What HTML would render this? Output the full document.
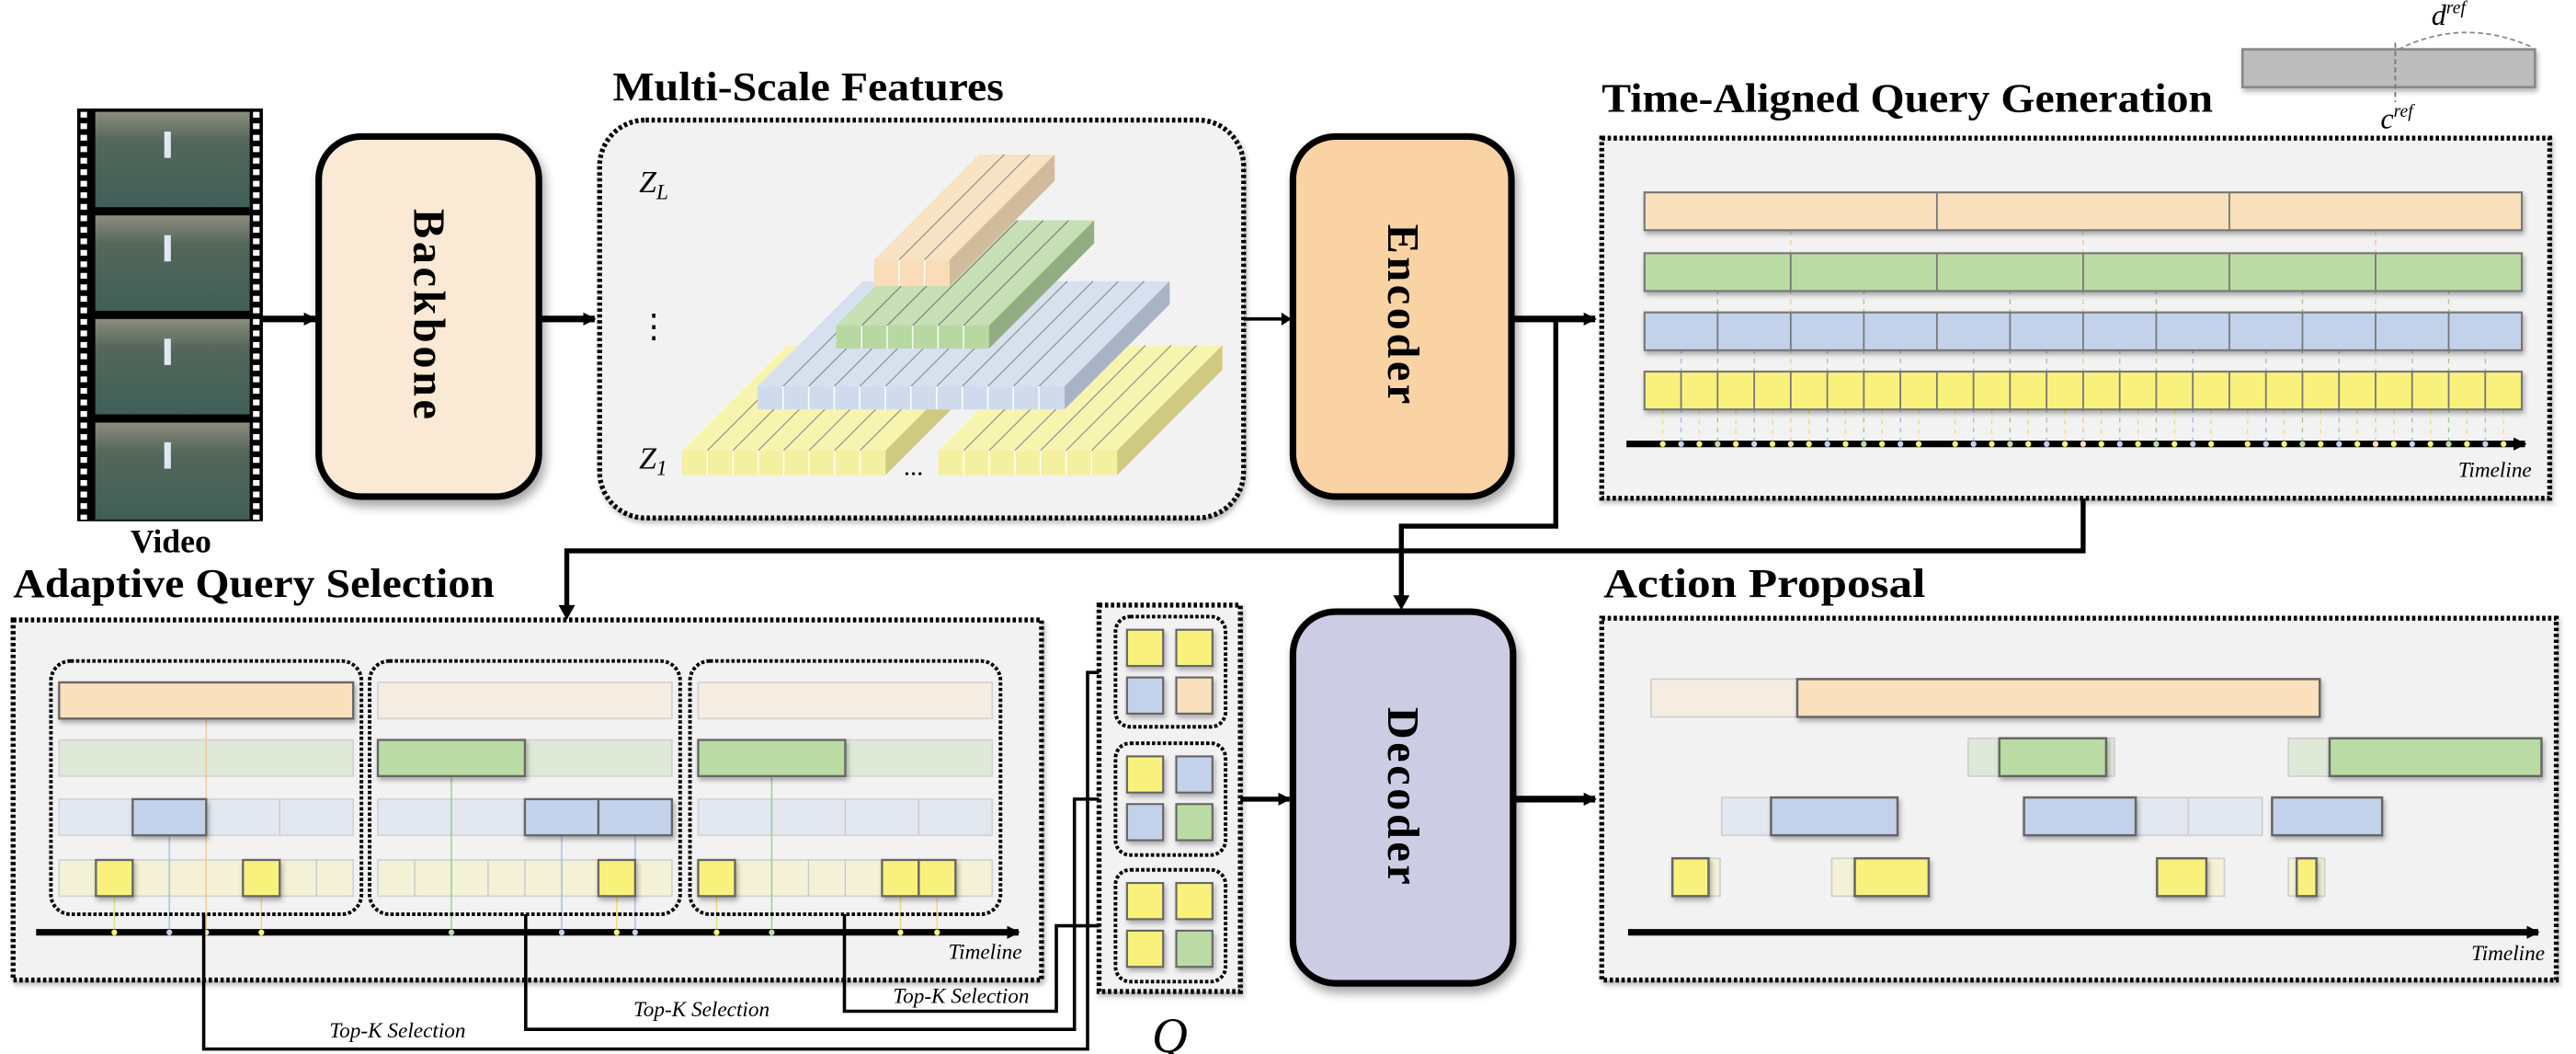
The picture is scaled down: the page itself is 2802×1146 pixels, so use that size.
<!DOCTYPE html>
<html><head><meta charset="utf-8"><style>
html,body{margin:0;padding:0;background:#fff;}
svg{display:block;}
text{font-family:"Liberation Serif",serif;}
</style></head><body>
<svg width="2802" height="1146" viewBox="0 0 1568 641" preserveAspectRatio="none" xmlns="http://www.w3.org/2000/svg">
<defs>
<marker id="ahs" markerWidth="8" markerHeight="8" refX="7" refY="4" orient="auto" markerUnits="userSpaceOnUse"><path d="M0,0 L8,4 L0,8 z" fill="#000"/></marker>
<filter id="sh" x="-20%" y="-20%" width="140%" height="140%"><feDropShadow dx="2" dy="4" stdDeviation="3" flood-opacity="0.35"/></filter>
<filter id="sh2" x="-20%" y="-20%" width="140%" height="160%"><feDropShadow dx="1" dy="2" stdDeviation="1.5" flood-opacity="0.3"/></filter>
<linearGradient id="fr" x1="0" y1="0" x2="0" y2="1"><stop offset="0" stop-color="#8a8e80"/><stop offset="0.3" stop-color="#55675a"/><stop offset="1" stop-color="#3f5f58"/></linearGradient>
</defs>

<!-- Film strip -->
<rect x="47" y="66" width="113" height="251" fill="#000"/>
<line x1="51" y1="68" x2="51" y2="316" stroke="#fff" stroke-width="4" stroke-dasharray="3.5,3.5"/>
<line x1="156" y1="68" x2="156" y2="316" stroke="#fff" stroke-width="4" stroke-dasharray="3.5,3.5"/>
<rect x="58" y="68" width="94" height="58" fill="url(#fr)"/>
<rect x="58" y="131" width="94" height="58" fill="url(#fr)"/>
<rect x="58" y="194" width="94" height="58" fill="url(#fr)"/>
<rect x="58" y="257" width="94" height="59" fill="url(#fr)"/>
<g fill="#dfe8f2"><rect x="100" y="80" width="4" height="16"/><rect x="100" y="143" width="4" height="16"/><rect x="100" y="206" width="4" height="16"/><rect x="100" y="269" width="4" height="16"/></g>
<text x="104" y="336" font-size="20" font-weight="bold" text-anchor="middle">Video</text>

<!-- Backbone -->
<rect x="194" y="83" width="134" height="219" rx="26" fill="#fae9d4" stroke="#000" stroke-width="4" filter="url(#sh)"/>
<text transform="translate(252,192) rotate(90)" font-size="27" font-weight="bold" text-anchor="middle" letter-spacing="2">Backbone</text>
<line x1="160" y1="194" x2="192" y2="194" stroke="#000" stroke-width="4" marker-end="url(#ahs)"/>
<line x1="328" y1="194" x2="362" y2="194" stroke="#000" stroke-width="4" marker-end="url(#ahs)"/>

<!-- Multi-scale -->
<text x="373" y="61" font-size="25" font-weight="bold" textLength="238" lengthAdjust="spacingAndGlyphs">Multi-Scale Features</text>
<rect x="365" y="73" width="392" height="242" rx="28" fill="#f2f2f2" stroke="#000" stroke-width="3" stroke-dasharray="2,1.6" filter="url(#sh2)"/>
<!-- yellow left -->
<polygon points="415,274 479,210 603,210 539,274" fill="#f7f4b0"/>
<polygon points="539,274 603,210 603,225 539,289" fill="#cfca80"/>
<rect x="415" y="274" width="124" height="15" fill="#f4f0a0"/>
<path d="M430.5,274l64,-64M446,274l64,-64M461.5,274l64,-64M477,274l64,-64M492.5,274l64,-64M508,274l64,-64M523.5,274l64,-64" stroke="#888" stroke-width="0.6"/>
<path d="M430.5,274v15M446,274v15M461.5,274v15M477,274v15M492.5,274v15M508,274v15M523.5,274v15" stroke="#fff" stroke-width="0.8"/>
<!-- yellow right -->
<polygon points="571,274 635,210 744,210 680,274" fill="#f7f4b0"/>
<polygon points="680,274 744,210 744,225 680,289" fill="#cfca80"/>
<rect x="571" y="274" width="109" height="15" fill="#f4f0a0"/>
<path d="M586.6,274l64,-64M602.1,274l64,-64M617.7,274l64,-64M633.3,274l64,-64M648.9,274l64,-64M664.4,274l64,-64" stroke="#888" stroke-width="0.6"/>
<path d="M586.6,274v15M602.1,274v15M617.7,274v15M633.3,274v15M648.9,274v15M664.4,274v15" stroke="#fff" stroke-width="0.8"/>
<!-- blue -->
<polygon points="461,235 525,171 712,171 648,235" fill="#d6e0ee"/>
<polygon points="648,235 712,171 712,185 648,249" fill="#a9b3c6"/>
<rect x="461" y="235" width="187" height="14" fill="#cfdbec"/>
<path d="M476.6,235l64,-64M492.2,235l64,-64M507.8,235l64,-64M523.3,235l64,-64M538.9,235l64,-64M554.5,235l64,-64M570.1,235l64,-64M585.7,235l64,-64M601.3,235l64,-64M616.8,235l64,-64M632.4,235l64,-64" stroke="#888" stroke-width="0.6"/>
<path d="M476.6,235v14M492.2,235v14M507.8,235v14M523.3,235v14M538.9,235v14M554.5,235v14M570.1,235v14M585.7,235v14M601.3,235v14M616.8,235v14M632.4,235v14" stroke="#fff" stroke-width="0.8"/>
<!-- green -->
<polygon points="509,198 573,134 666,134 602,198" fill="#c6dfb4"/>
<polygon points="602,198 666,134 666,148 602,212" fill="#93ad82"/>
<rect x="509" y="198" width="93" height="14" fill="#b8d8a2"/>
<path d="M524.5,198l64,-64M540,198l64,-64M555.5,198l64,-64M571,198l64,-64M586.5,198l64,-64" stroke="#777" stroke-width="0.6"/>
<path d="M524.5,198v14M540,198v14M555.5,198v14M571,198v14M586.5,198v14" stroke="#fff" stroke-width="0.8"/>
<!-- orange -->
<polygon points="532,158 596,94 642,94 578,158" fill="#f8e2c4"/>
<polygon points="578,158 642,94 642,110 578,174" fill="#d2bb9c"/>
<rect x="532" y="158" width="46" height="16" fill="#f8ddb8"/>
<path d="M547.3,158l64,-64M562.7,158l64,-64" stroke="#888" stroke-width="0.6"/>
<path d="M547.3,158v16M562.7,158v16" stroke="#fff" stroke-width="0.8"/>
<text x="389" y="117" font-size="19" font-style="italic">Z<tspan font-size="13" dy="4">L</tspan></text>
<text x="398" y="205" font-size="20" text-anchor="middle">⋮</text>
<text x="389" y="285" font-size="19" font-style="italic">Z<tspan font-size="13" dy="4">1</tspan></text>
<text x="556" y="289" font-size="16" text-anchor="middle">...</text>

<!-- Encoder -->
<rect x="787" y="83" width="133" height="219" rx="26" fill="#fad3a4" stroke="#000" stroke-width="4" filter="url(#sh)"/>
<text transform="translate(845,192) rotate(90)" font-size="27" font-weight="bold" text-anchor="middle" letter-spacing="2">Encoder</text>
<line x1="757" y1="194" x2="785" y2="194" stroke="#000" stroke-width="2"/>
<path d="M780,190 L786,194 L780,198z" fill="#000"/>
<line x1="920" y1="194" x2="971" y2="194" stroke="#000" stroke-width="4" marker-end="url(#ahs)"/>

<!-- ref bar -->
<rect x="1365" y="30" width="178" height="23" fill="#bcbcbc" stroke="#888" stroke-width="1.5" filter="url(#sh2)"/>
<line x1="1458" y1="26" x2="1458" y2="62" stroke="#777" stroke-width="1" stroke-dasharray="3,2"/>
<path d="M1460,30 Q1500,10 1542,29" fill="none" stroke="#888" stroke-width="1" stroke-dasharray="3,2"/>
<text x="1480" y="15" font-size="18" font-style="italic">d<tspan font-size="11" dy="-7">ref</tspan></text>
<text x="1449" y="78" font-size="18" font-style="italic">c<tspan font-size="11" dy="-7">ref</tspan></text>

<!-- TAQG -->
<text x="975" y="68" font-size="25" font-weight="bold" textLength="372" lengthAdjust="spacingAndGlyphs">Time-Aligned Query Generation</text>
<rect x="975" y="84" width="577" height="219" fill="#f2f2f2" stroke="#000" stroke-width="3" stroke-dasharray="2,1.6" filter="url(#sh2)"/>
<g stroke-width="0.8" stroke-dasharray="3,3" fill="none">
<path stroke="#f0e070" d="M1012.1,249V268M1034.4,249V268M1056.6,249V268M1078.9,249V268M1101.1,249V268M1123.4,249V268M1145.6,249V268M1167.9,249V268M1190.1,249V268M1212.4,249V268M1234.6,249V268M1256.9,249V268M1279.1,249V268M1301.4,249V268M1323.6,249V268M1345.9,249V268M1368.1,249V268M1390.4,249V268M1412.6,249V268M1434.9,249V268M1457.1,249V268M1479.4,249V268M1501.6,249V268M1523.9,249V268"/>
<path stroke="#a8bde0" d="M1023.3,212V268M1067.8,212V268M1112.3,212V268M1156.8,212V268M1201.3,212V268M1245.8,212V268M1290.3,212V268M1334.8,212V268M1379.3,212V268M1423.8,212V268M1468.3,212V268M1512.8,212V268"/>
<path stroke="#9fcc88" d="M1045.5,176V268M1134.5,176V268M1223.5,176V268M1312.5,176V268M1401.5,176V268M1490.5,176V268"/>
<path stroke="#f5c898" d="M1090,140V268M1268,140V268M1446,140V268"/>
</g>
<g stroke="#777" stroke-width="1.2" filter="url(#sh2)">
<rect x="1001" y="117" width="534" height="23" fill="#fae0bc"/>
<rect x="1001" y="154" width="534" height="23" fill="#bbdba4"/>
<rect x="1001" y="190" width="534" height="23" fill="#c3d2ea"/>
<rect x="1001" y="226" width="534" height="23" fill="#f8f27d"/>
</g>
<g stroke="#777" stroke-width="1">
<path d="M1179,117v23M1357,117v23"/>
<path d="M1090,154v23M1179,154v23M1268,154v23M1357,154v23M1446,154v23"/>
<path d="M1045.5,190v23M1090,190v23M1134.5,190v23M1179,190v23M1223.5,190v23M1268,190v23M1312.5,190v23M1357,190v23M1401.5,190v23M1446,190v23M1490.5,190v23"/>
<path d="M1023.25,226v23M1045.5,226v23M1067.75,226v23M1090,226v23M1112.25,226v23M1134.5,226v23M1156.75,226v23M1179,226v23M1201.25,226v23M1223.5,226v23M1245.75,226v23M1268,226v23M1290.25,226v23M1312.5,226v23M1334.75,226v23M1357,226v23M1379.25,226v23M1401.5,226v23M1423.75,226v23M1446,226v23M1468.25,226v23M1490.5,226v23M1512.75,226v23"/>
</g>
<line x1="990" y1="270" x2="1537" y2="270" stroke="#000" stroke-width="4" marker-end="url(#ahs)"/>
<g stroke-linecap="round" stroke-width="3.5" fill="none">
<path stroke="#f8f27d" d="M1012.1,270v.1M1034.4,270v.1M1056.6,270v.1M1078.9,270v.1M1101.1,270v.1M1123.4,270v.1M1145.6,270v.1M1167.9,270v.1M1190.1,270v.1M1212.4,270v.1M1234.6,270v.1M1256.9,270v.1M1279.1,270v.1M1301.4,270v.1M1323.6,270v.1M1345.9,270v.1M1368.1,270v.1M1390.4,270v.1M1412.6,270v.1M1434.9,270v.1M1457.1,270v.1M1479.4,270v.1M1501.6,270v.1M1523.9,270v.1"/>
<path stroke="#c3d2ea" d="M1023.3,270v.1M1067.8,270v.1M1112.3,270v.1M1156.8,270v.1M1201.3,270v.1M1245.8,270v.1M1290.3,270v.1M1334.8,270v.1M1379.3,270v.1M1423.8,270v.1M1468.3,270v.1M1512.8,270v.1"/>
<path stroke="#bbdba4" d="M1045.5,270v.1M1134.5,270v.1M1223.5,270v.1M1312.5,270v.1M1401.5,270v.1M1490.5,270v.1"/>
<path stroke="#fae0bc" d="M1090,270v.1M1268,270v.1M1446,270v.1"/>
</g>
<text x="1541" y="290" font-size="13" font-style="italic" text-anchor="end">Timeline</text>

<!-- connectors -->
<polyline points="947,194 947,320 853,320 853,366" fill="none" stroke="#000" stroke-width="3"/>
<path d="M848,362 L853,371 L858,362z" fill="#000"/>
<polyline points="1268,303 1268,335 345,335 345,372" fill="none" stroke="#000" stroke-width="3"/>
<path d="M340,368 L345,377 L350,368z" fill="#000"/>

<!-- AQS -->
<text x="8" y="363" font-size="25" font-weight="bold" textLength="293" lengthAdjust="spacingAndGlyphs">Adaptive Query Selection</text>
<rect x="8" y="377" width="626" height="219" fill="#f2f2f2" stroke="#000" stroke-width="3" stroke-dasharray="2,1.6" filter="url(#sh2)"/>
<!-- faded rows -->
<g stroke="#d4d4d4" stroke-width="1">
<rect x="36" y="415" width="179" height="22" fill="#f5ede2"/><rect x="230" y="415" width="179" height="22" fill="#f5ede2"/><rect x="425" y="415" width="179" height="22" fill="#f5ede2"/>
<rect x="36" y="450" width="179" height="22" fill="#dfe9d7"/><rect x="230" y="450" width="179" height="22" fill="#dfe9d7"/><rect x="425" y="450" width="179" height="22" fill="#dfe9d7"/>
<rect x="36" y="486" width="179" height="22" fill="#e3e8f0"/><rect x="230" y="486" width="179" height="22" fill="#e3e8f0"/><rect x="425" y="486" width="179" height="22" fill="#e3e8f0"/>
<rect x="36" y="523" width="179" height="22" fill="#f3f2d6"/><rect x="230" y="523" width="179" height="22" fill="#f3f2d6"/><rect x="425" y="523" width="179" height="22" fill="#f3f2d6"/>
</g>
<path stroke="#c8c8c8" stroke-width="0.8" d="M125.5,450v22M319.5,450v22M514.5,450v22
M80.75,486v22M125.5,486v22M170.25,486v22M274.75,486v22M319.5,486v22M364.25,486v22M469.75,486v22M514.5,486v22M559.25,486v22
M58.4,523v22M80.75,523v22M103.1,523v22M125.5,523v22M147.9,523v22M170.25,523v22M192.6,523v22
M252.4,523v22M274.75,523v22M297.1,523v22M319.5,523v22M341.9,523v22M364.25,523v22M386.6,523v22
M447.4,523v22M469.75,523v22M492.1,523v22M514.5,523v22M536.9,523v22M559.25,523v22M581.6,523v22"/>
<!-- selection lines -->
<g stroke-width="0.8" fill="none">
<path stroke="#f5c898" d="M125.5,437V567"/>
<path stroke="#9fcc88" d="M274.75,472V567M469.75,472V567"/>
<path stroke="#a8bde0" d="M103.1,508V567M341.9,508V567M386.6,508V567"/>
<path stroke="#e8e070" d="M69.6,545V567M159.1,545V567M375.4,545V567M436.2,545V567M548.1,545V567M570.4,545V567"/>
</g>
<!-- selected -->
<g stroke="#666" stroke-width="1.3" filter="url(#sh2)">
<rect x="36" y="415" width="179" height="22" fill="#fae0bc"/>
<rect x="230" y="450" width="89.5" height="22" fill="#bbdba4"/>
<rect x="425" y="450" width="89.5" height="22" fill="#bbdba4"/>
<rect x="80.75" y="486" width="44.75" height="22" fill="#c3d2ea"/>
<rect x="319.5" y="486" width="44.75" height="22" fill="#c3d2ea"/>
<rect x="364.25" y="486" width="44.75" height="22" fill="#c3d2ea"/>
<rect x="58.4" y="523" width="22.35" height="22" fill="#f8f27d"/>
<rect x="147.9" y="523" width="22.35" height="22" fill="#f8f27d"/>
<rect x="364.25" y="523" width="22.35" height="22" fill="#f8f27d"/>
<rect x="425" y="523" width="22.4" height="22" fill="#f8f27d"/>
<rect x="536.9" y="523" width="22.35" height="22" fill="#f8f27d"/>
<rect x="559.25" y="523" width="22.35" height="22" fill="#f8f27d"/>
</g>
<rect x="31" y="402" width="189" height="154" rx="12" fill="none" stroke="#000" stroke-width="2.2" stroke-dasharray="2,1.3"/>
<rect x="225" y="402" width="189" height="154" rx="12" fill="none" stroke="#000" stroke-width="2.2" stroke-dasharray="2,1.3"/>
<rect x="420" y="402" width="189" height="154" rx="12" fill="none" stroke="#000" stroke-width="2.2" stroke-dasharray="2,1.3"/>
<line x1="22" y1="567" x2="620" y2="567" stroke="#000" stroke-width="4" marker-end="url(#ahs)"/>
<g stroke-linecap="round" stroke-width="3.5" fill="none">
<path stroke="#f8f27d" d="M69.6,567v.1M159.1,567v.1M375.4,567v.1M436.2,567v.1M548.1,567v.1M570.4,567v.1"/>
<path stroke="#c3d2ea" d="M103.1,567v.1M341.9,567v.1M386.6,567v.1"/>
<path stroke="#bbdba4" d="M274.75,567v.1M469.75,567v.1"/>
<path stroke="#fae0bc" d="M125.5,567v.1"/>
</g>
<text x="622" y="583" font-size="13" font-style="italic" text-anchor="end">Timeline</text>

<!-- Top-K lines -->
<polyline points="124,556 124,638 662,638 662,409 675,409" fill="none" stroke="#000" stroke-width="2"/>
<polyline points="320,556 320,626 654,626 654,486 675,486" fill="none" stroke="#000" stroke-width="2"/>
<polyline points="514,556 514,615 643,615 643,563 675,563" fill="none" stroke="#000" stroke-width="2"/>
<path d="M672,405 L680,409 L672,413z M672,482 L680,486 L672,490z M672,559 L680,563 L672,567z" fill="#000"/>
<text x="242" y="631" font-size="13" font-style="italic" text-anchor="middle">Top-K Selection</text>
<text x="427" y="618" font-size="13" font-style="italic" text-anchor="middle">Top-K Selection</text>
<text x="585" y="610" font-size="13" font-style="italic" text-anchor="middle">Top-K Selection</text>

<!-- Q -->
<rect x="669" y="368" width="86" height="235" fill="#f2f2f2" stroke="#000" stroke-width="3" stroke-dasharray="2,1.6" filter="url(#sh2)"/>
<rect x="679" y="375" width="67" height="67" rx="9" fill="none" stroke="#000" stroke-width="2.2" stroke-dasharray="2,1.3"/>
<rect x="679" y="452" width="67" height="68" rx="9" fill="none" stroke="#000" stroke-width="2.2" stroke-dasharray="2,1.3"/>
<rect x="679" y="529" width="67" height="68" rx="9" fill="none" stroke="#000" stroke-width="2.2" stroke-dasharray="2,1.3"/>
<g stroke="#666" stroke-width="1.2" filter="url(#sh2)">
<rect x="686" y="383" width="22" height="22" fill="#f8f27d"/><rect x="716" y="383" width="22" height="22" fill="#f8f27d"/>
<rect x="686" y="412" width="22" height="22" fill="#c3d2ea"/><rect x="716" y="412" width="22" height="22" fill="#fae0bc"/>
<rect x="686" y="460" width="22" height="22" fill="#f8f27d"/><rect x="716" y="460" width="22" height="22" fill="#c3d2ea"/>
<rect x="686" y="489" width="22" height="22" fill="#c3d2ea"/><rect x="716" y="489" width="22" height="22" fill="#bbdba4"/>
<rect x="686" y="537" width="22" height="22" fill="#f8f27d"/><rect x="716" y="537" width="22" height="22" fill="#f8f27d"/>
<rect x="686" y="566" width="22" height="22" fill="#f8f27d"/><rect x="716" y="566" width="22" height="22" fill="#bbdba4"/>
</g>
<text x="712" y="640" font-size="30" font-style="italic" text-anchor="middle">Q</text>

<!-- Decoder -->
<rect x="787" y="372" width="134" height="226" rx="26" fill="#cccce4" stroke="#000" stroke-width="4" filter="url(#sh)"/>
<text transform="translate(845,485) rotate(90)" font-size="27" font-weight="bold" text-anchor="middle" letter-spacing="2">Decoder</text>
<line x1="755" y1="486" x2="785" y2="486" stroke="#000" stroke-width="3" marker-end="url(#ahs)"/>
<line x1="921" y1="486" x2="971" y2="486" stroke="#000" stroke-width="4" marker-end="url(#ahs)"/>

<!-- Action Proposal -->
<text x="976" y="363" font-size="25" font-weight="bold" textLength="196" lengthAdjust="spacingAndGlyphs">Action Proposal</text>
<rect x="975" y="376" width="581" height="220" fill="#f2f2f2" stroke="#000" stroke-width="3" stroke-dasharray="2,1.6" filter="url(#sh2)"/>
<g stroke="#d0d0d0" stroke-width="1">
<rect x="1005" y="413" width="89" height="23" fill="#f5ede2"/>
<rect x="1198" y="449" width="89" height="23" fill="#dfe9d7"/>
<rect x="1393" y="449" width="25" height="23" fill="#dfe9d7"/>
<rect x="1048" y="485" width="30" height="23" fill="#e3e8f0"/>
<rect x="1300" y="485" width="32" height="23" fill="#e3e8f0"/>
<rect x="1332" y="485" width="45" height="23" fill="#e3e8f0"/>
<rect x="1018" y="522" width="29" height="23" fill="#f3f2d6"/>
<rect x="1115" y="522" width="14" height="23" fill="#f3f2d6"/>
<rect x="1313" y="522" width="41" height="23" fill="#f3f2d6"/>
<rect x="1393" y="522" width="22" height="23" fill="#f3f2d6"/>
</g>
<g stroke="#666" stroke-width="1.4" filter="url(#sh2)">
<rect x="1094" y="413" width="318" height="23" fill="#fae0bc"/>
<rect x="1217" y="449" width="65" height="23" fill="#bbdba4"/>
<rect x="1418" y="449" width="129" height="23" fill="#bbdba4"/>
<rect x="1078" y="485" width="77" height="23" fill="#c3d2ea"/>
<rect x="1232" y="485" width="68" height="23" fill="#c3d2ea"/>
<rect x="1383" y="485" width="67" height="23" fill="#c3d2ea"/>
<rect x="1018" y="522" width="22" height="23" fill="#f8f27d"/>
<rect x="1129" y="522" width="45" height="23" fill="#f8f27d"/>
<rect x="1313" y="522" width="30" height="23" fill="#f8f27d"/>
<rect x="1398" y="522" width="12" height="23" fill="#f8f27d"/>
</g>
<line x1="991" y1="567" x2="1545" y2="567" stroke="#000" stroke-width="4" marker-end="url(#ahs)"/>
<text x="1549" y="584" font-size="13" font-style="italic" text-anchor="end">Timeline</text>
</svg>
</body></html>
